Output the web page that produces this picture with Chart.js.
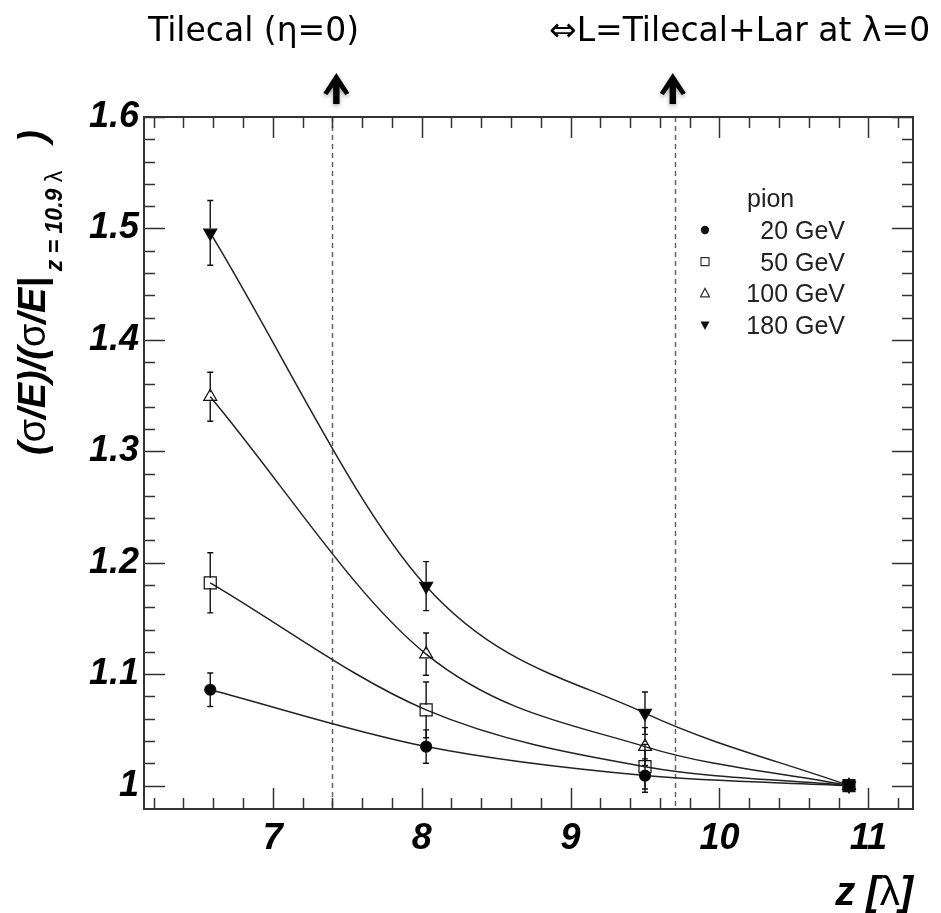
<!DOCTYPE html>
<html>
<head>
<meta charset="utf-8">
<title>Energy resolution vs. calorimeter depth</title>
<script src="https://cdn.jsdelivr.net/npm/chart.js@4/dist/chart.umd.min.js"></script>
<style>
  html, body { margin: 0; padding: 0; background: #fff; }
  #c { display: block; }
</style>
</head>
<body>
<canvas id="c" width="941" height="913"></canvas>
<script>
// Depth of the calorimeter in interaction lengths
const depths = [6.58, 8.03, 9.5, 10.87];
const energies = ['20 GeV', '50 GeV', '100 GeV', '180 GeV'];

// Resolution normalised to the full depth (z = 10.9 lambda), per beam energy
const ratio20  = [1.086, 1.035, 1.009, 1.0];
const ratio50  = [1.182, 1.068, 1.017, 1.0];
const ratio100 = [1.349, 1.118, 1.035, 1.0];
const ratio180 = [1.496, 1.179, 1.065, 1.0];

// Statistical uncertainties
const err20  = [0.015, 0.015, 0.015, 0];
const err50  = [0.027, 0.025, 0.020, 0];
const err100 = [0.022, 0.019, 0.017, 0];
const err180 = [0.029, 0.022, 0.019, 0];

const xTicks = [7, 8, 9, 10, 11];
const yTicks = [1, 1.1, 1.2, 1.3, 1.4, 1.5, 1.6];

// Depths marking the Tilecal alone and Tilecal + LAr at eta = 0
const boundaries = [7.4, 9.7];
const boundaryLabels = ['Tilecal (\u03b7=0)', '\u21d4L=Tilecal+Lar at \u03bb=0'];

const AXIS_FONT = '"Liberation Sans", Arial, Helvetica, sans-serif';
const NOTE_FONT = '"DejaVu Sans", sans-serif';
const INK = '#222';

const series = [
  { label: energies[0], y: ratio20,  err: err20,  style: 'circle',   r: 5.5, filled: true,  rot: 0 },
  { label: energies[1], y: ratio50,  err: err50,  style: 'rect',     r: 8.5, filled: false, rot: 0 },
  { label: energies[2], y: ratio100, err: err100, style: 'triangle', r: 7.5, filled: false, rot: 0 },
  { label: energies[3], y: ratio180, err: err180, style: 'triangle', r: 7.5, filled: true,  rot: 180 }
];

// Runs of text with mixed fonts along one baseline
function drawRuns(ctx, runs, x, y) {
  let cx = x;
  for (const r of runs) {
    ctx.font = r.font;
    ctx.fillText(r.t, cx, y + (r.dy || 0));
    cx += ctx.measureText(r.t).width + (r.gap || 0);
  }
  return cx - x;
}
function runsWidth(ctx, runs) {
  let w = 0;
  for (const r of runs) { ctx.font = r.font; w += ctx.measureText(r.t).width + (r.gap || 0); }
  return w;
}

function legendMarker(ctx, kind, x, y) {
  ctx.save();
  ctx.lineWidth = 1.2;
  ctx.strokeStyle = '#333';
  ctx.fillStyle = '#111';
  ctx.beginPath();
  if (kind === 0) {
    ctx.arc(x, y, 4.2, 0, Math.PI * 2);
    ctx.fill();
  } else if (kind === 1) {
    ctx.rect(x - 4, y - 4, 8, 8);
    ctx.stroke();
  } else if (kind === 2) {
    ctx.moveTo(x, y - 5); ctx.lineTo(x + 4.5, y + 3.5); ctx.lineTo(x - 4.5, y + 3.5); ctx.closePath();
    ctx.stroke();
  } else {
    ctx.moveTo(x, y + 5); ctx.lineTo(x + 4.5, y - 3.5); ctx.lineTo(x - 4.5, y - 3.5); ctx.closePath();
    ctx.fill();
  }
  ctx.restore();
}

const framePlugin = {
  id: 'frame',
  beforeDatasetsDraw(chart) {
    const { ctx, chartArea: a, scales: { x, y } } = chart;
    ctx.save();
    // dashed boundary lines
    ctx.strokeStyle = '#666';
    ctx.lineWidth = 1.5;
    ctx.setLineDash([5, 4]);
    for (const b of boundaries) {
      const px = Math.round(x.getPixelForValue(b)) + 0.5;
      ctx.beginPath(); ctx.moveTo(px, a.top); ctx.lineTo(px, a.bottom); ctx.stroke();
    }
    ctx.setLineDash([]);
    // error bars
    ctx.strokeStyle = '#111';
    ctx.lineWidth = 1.4;
    series.forEach(s => {
      depths.forEach((d, i) => {
        const e = s.err[i];
        if (!e) return;
        const px = x.getPixelForValue(d);
        const pc = y.getPixelForValue(s.y[i]);
        const pt = y.getPixelForValue(s.y[i] + e);
        const pb = y.getPixelForValue(s.y[i] - e);
        const gap = s.r * 0.6;
        ctx.beginPath();
        ctx.moveTo(px, pt); ctx.lineTo(px, pc - gap);
        ctx.moveTo(px, pc + gap); ctx.lineTo(px, pb);
        ctx.moveTo(px - 3, pt); ctx.lineTo(px + 3, pt);
        ctx.moveTo(px - 3, pb); ctx.lineTo(px + 3, pb);
        ctx.stroke();
      });
    });
    ctx.restore();
  },
  afterDraw(chart) {
    const { ctx, chartArea: a, scales: { x, y } } = chart;
    ctx.save();
    // frame
    ctx.strokeStyle = '#333';
    ctx.lineWidth = 2;
    ctx.strokeRect(a.left, a.top, a.right - a.left, a.bottom - a.top);
    // inward ticks on all four sides
    ctx.lineWidth = 1.5;
    const MAJ = 21, MIN = 11;
    ctx.beginPath();
    for (let k = 31; k <= 56; k++) {
      const v = k / 5;
      const px = Math.round(x.getPixelForValue(v)) + 0.5;
      if (px <= a.left + 1 || px >= a.right - 1) continue;
      const len = (k % 5 === 0) ? MAJ : MIN;
      ctx.moveTo(px, a.bottom); ctx.lineTo(px, a.bottom - len);
      ctx.moveTo(px, a.top); ctx.lineTo(px, a.top + len);
    }
    for (let k = 49; k <= 80; k++) {
      const v = k / 50;
      const py = Math.round(y.getPixelForValue(v)) + 0.5;
      if (py < a.top || py >= a.bottom - 1) continue;
      const len = (k % 5 === 0) ? MAJ : MIN;
      ctx.moveTo(a.left, py); ctx.lineTo(a.left + len, py);
      ctx.moveTo(a.right, py); ctx.lineTo(a.right - len, py);
    }
    ctx.stroke();

    ctx.fillStyle = '#000';
    ctx.textBaseline = 'alphabetic';
    ctx.textAlign = 'left';

    // y-axis title, rotated
    const BI = 'italic bold 38px ' + AXIS_FONT;
    const N = '38px ' + AXIS_FONT;
    const SBI = 'italic bold 23px ' + AXIS_FONT;
    const SN = '23px ' + AXIS_FONT;
    ctx.save();
    ctx.translate(45, 455);
    ctx.rotate(-Math.PI / 2);
    drawRuns(ctx, [
      { t: '(', font: BI }, { t: '\u03c3', font: N }, { t: '/E)/(', font: BI },
      { t: '\u03c3', font: N }, { t: '/E|', font: BI, gap: 6 },
      { t: 'z = 10.9 ', font: SBI, dy: 17 }, { t: '\u03bb', font: SN, dy: 17, gap: 28 },
      { t: ')', font: BI }
    ], 0, 0);
    ctx.restore();

    // x-axis title
    const XB = 'italic bold 40px ' + AXIS_FONT;
    const XN = '40px ' + AXIS_FONT;
    const xt = [{ t: 'z [', font: XB }, { t: '\u03bb', font: XN }, { t: ']', font: XB }];
    drawRuns(ctx, xt, a.right - runsWidth(ctx, xt), 905);

    // legend
    const lx = a.right - 68;
    ctx.fillStyle = '#222';
    ctx.font = '25px ' + AXIS_FONT;
    ctx.textAlign = 'left';
    ctx.fillText('pion', 747, 207);
    ctx.textAlign = 'right';
    series.forEach((s, i) => {
      const ly = 230 + i * 31.7;
      legendMarker(ctx, i, 705, ly);
      ctx.fillStyle = '#222';
      ctx.fillText(s.label, lx, ly + 9);
    });

    // annotations above the frame
    ctx.textAlign = 'left';
    ctx.fillStyle = '#000';
    ctx.font = '33px ' + NOTE_FONT;
    ctx.fillText(boundaryLabels[0], 148, 41);
    ctx.fillText(boundaryLabels[1], 549, 41);

    // arrows pointing at the boundaries
    ctx.shadowColor = 'rgba(0,0,0,0.35)';
    ctx.shadowBlur = 4;
    ctx.shadowOffsetY = 2;
    ctx.fillStyle = '#000';
    boundaries.forEach((b, i) => {
      const px = x.getPixelForValue(b) + (i === 0 ? 4 : -2);
      ctx.beginPath();
      ctx.moveTo(px, 73);
      ctx.lineTo(px + 13, 93);
      ctx.lineTo(px + 9, 95);
      ctx.lineTo(px + 3.2, 87);
      ctx.lineTo(px + 3.2, 104);
      ctx.lineTo(px - 3.2, 104);
      ctx.lineTo(px - 3.2, 87);
      ctx.lineTo(px - 9, 95);
      ctx.lineTo(px - 13, 93);
      ctx.closePath();
      ctx.fill();
    });
    ctx.restore();
  }
};

new Chart(document.getElementById('c'), {
  type: 'scatter',
  data: {
    datasets: series.map(s => ({
      label: s.label,
      data: depths.map((d, i) => ({ x: d, y: s.y[i] })),
      showLine: true,
      borderColor: INK,
      borderWidth: 1.5,
      cubicInterpolationMode: 'monotone',
      pointStyle: s.style,
      pointRadius: s.r,
      pointRotation: s.rot,
      pointBorderColor: '#111',
      pointBorderWidth: 1.2,
      pointBackgroundColor: c => (s.filled || c.dataIndex === depths.length - 1) ? '#000' : 'rgba(255,255,255,0)',
      fill: false
    }))
  },
  options: {
    responsive: false,
    animation: false,
    layout: { padding: { top: 117, right: 28, left: 0, bottom: 0 } },
    plugins: { legend: { display: false }, tooltip: { enabled: false } },
    scales: {
      x: {
        type: 'linear', min: 6.135, max: 11.3,
        grid: { display: false, drawTicks: false }, border: { display: false },
        afterBuildTicks: s => { s.ticks = xTicks.map(v => ({ value: v })); },
        afterFit: s => { s.height = 104; },
        ticks: {
          font: { family: AXIS_FONT, size: 36, weight: 'bold', style: 'italic' },
          color: '#000', padding: 8, maxRotation: 0, autoSkip: false
        }
      },
      y: {
        type: 'linear', min: 0.979, max: 1.6,
        grid: { display: false, drawTicks: false }, border: { display: false },
        afterBuildTicks: s => { s.ticks = yTicks.map(v => ({ value: v })); },
        afterFit: s => { s.width = 144; },
        ticks: {
          font: { family: AXIS_FONT, size: 36, weight: 'bold', style: 'italic' },
          color: '#000', padding: 5, autoSkip: false,
          callback: v => String(+v.toFixed(1))
        }
      }
    }
  },
  plugins: [framePlugin]
});
</script>
</body>
</html>
